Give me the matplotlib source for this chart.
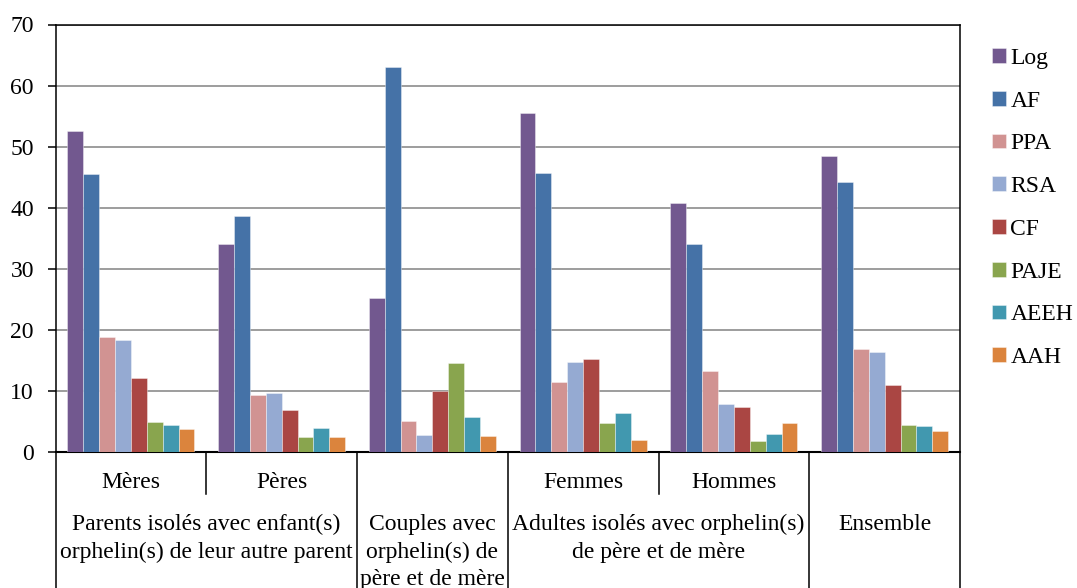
import matplotlib
matplotlib.use("Agg")
import matplotlib.pyplot as plt
import matplotlib.transforms as mtransforms
import numpy as np

plt.rcParams['font.family'] = ['Liberation Serif', 'DejaVu Serif']

# Sub-categories (first level of the x axis)
categories = ["Mères", "Pères", "", "Femmes", "Hommes", ""]
# Group labels (second level), with the span of categories each covers
groups = [
    (["Parents isolés avec enfant(s)", "orphelin(s) de leur autre parent"], 0, 1),
    (["Couples avec", "orphelin(s) de", "père et de mère"], 2, 2),
    (["Adultes isolés avec orphelin(s)", "de père et de mère"], 3, 4),
    (["Ensemble"], 5, 5),
]

series = ["Log", "AF", "PPA", "RSA", "CF", "PAJE", "AEEH", "AAH"]
log_vals  = [52.6, 34.0, 25.2, 55.5, 40.8, 48.5]
af_vals   = [45.5, 38.6, 63.0, 45.7, 34.0, 44.2]
ppa_vals  = [18.9, 9.4, 5.1, 11.4, 13.3, 16.8]
rsa_vals  = [18.4, 9.7, 2.8, 14.8, 7.9, 16.4]
cf_vals   = [12.1, 6.9, 10.0, 15.3, 7.3, 11.0]
paje_vals = [4.9, 2.5, 14.5, 4.8, 1.8, 4.5]
aeeh_vals = [4.4, 3.9, 5.8, 6.4, 3.0, 4.3]
aah_vals  = [3.8, 2.5, 2.7, 2.0, 4.8, 3.5]
values = [log_vals, af_vals, ppa_vals, rsa_vals, cf_vals, paje_vals, aeeh_vals, aah_vals]

colors = ["#72588F", "#4572A7", "#D19392", "#95AAD2", "#AA4643",
          "#89A54E", "#4198AF", "#DB843D"]

yticks = [0, 10, 20, 30, 40, 50, 60, 70]

FS = 17
W, H = 1077, 588
fig = plt.figure(figsize=(W / 100, H / 100), dpi=100)
ax = fig.add_axes([55.5 / W, 1 - 452 / H, (960 - 55.5) / W, (452 - 24.5) / H])

x = np.arange(len(categories))
bw = 0.1055
handles = []
for i, (name, vals, col) in enumerate(zip(series, values, colors)):
    b = ax.bar(x + (i - 3.5) * bw, vals, bw, color=col, label=name,
               edgecolor=(1, 1, 1, 0.45), linewidth=0.6, zorder=3)
    handles.append(b)

ax.set_xlim(-0.5, len(categories) - 0.5)
ax.set_ylim(0, 70)
ax.set_yticks(yticks)
ax.set_yticklabels([str(t) for t in yticks], fontsize=FS)
ax.set_xticks([])
ax.yaxis.grid(True, color="#8c8c8c", linewidth=1.2, zorder=0)
ax.set_axisbelow(True)
ax.tick_params(axis="y", direction="out", length=5.5, width=1.1, pad=10)
for s in ax.spines.values():
    s.set_color("black")
    s.set_linewidth(1.1)
ax.spines["bottom"].set_linewidth(1.5)

# Multi-level category axis below the plot
trans = mtransforms.blended_transform_factory(ax.transData, fig.transFigure)
y_axis = 1 - 452 / H
y_short = 1 - 494 / H
for sep in [0.5, 3.5]:
    ax.plot([sep, sep], [y_axis, y_short], color="black", lw=1.1,
            transform=trans, clip_on=False)
for sep in [-0.5, 1.5, 2.5, 4.5, 5.5]:
    ax.plot([sep, sep], [y_axis, 0], color="black", lw=1.1,
            transform=trans, clip_on=False)

for xi, lab in zip(x, categories):
    if lab:
        ax.text(xi, 1 - 488 / H, lab, transform=trans, ha="center",
                va="baseline", fontsize=FS)

baselines = [530, 558, 585]
for lines, a, b in groups:
    xc = (a + b) / 2
    for line, yb in zip(lines, baselines):
        ax.text(xc, 1 - yb / H, line, transform=trans, ha="center",
                va="baseline", fontsize=FS)

fig.legend(handles=handles, labels=series, loc="upper left",
           bbox_to_anchor=(992 / W, 1 - 48 / H), frameon=False,
           fontsize=FS, handlelength=0.58, handleheight=0.58,
           handletextpad=0.2, labelspacing=0.92, borderpad=0,
           borderaxespad=0)

fig.savefig("out.png", dpi=100)
